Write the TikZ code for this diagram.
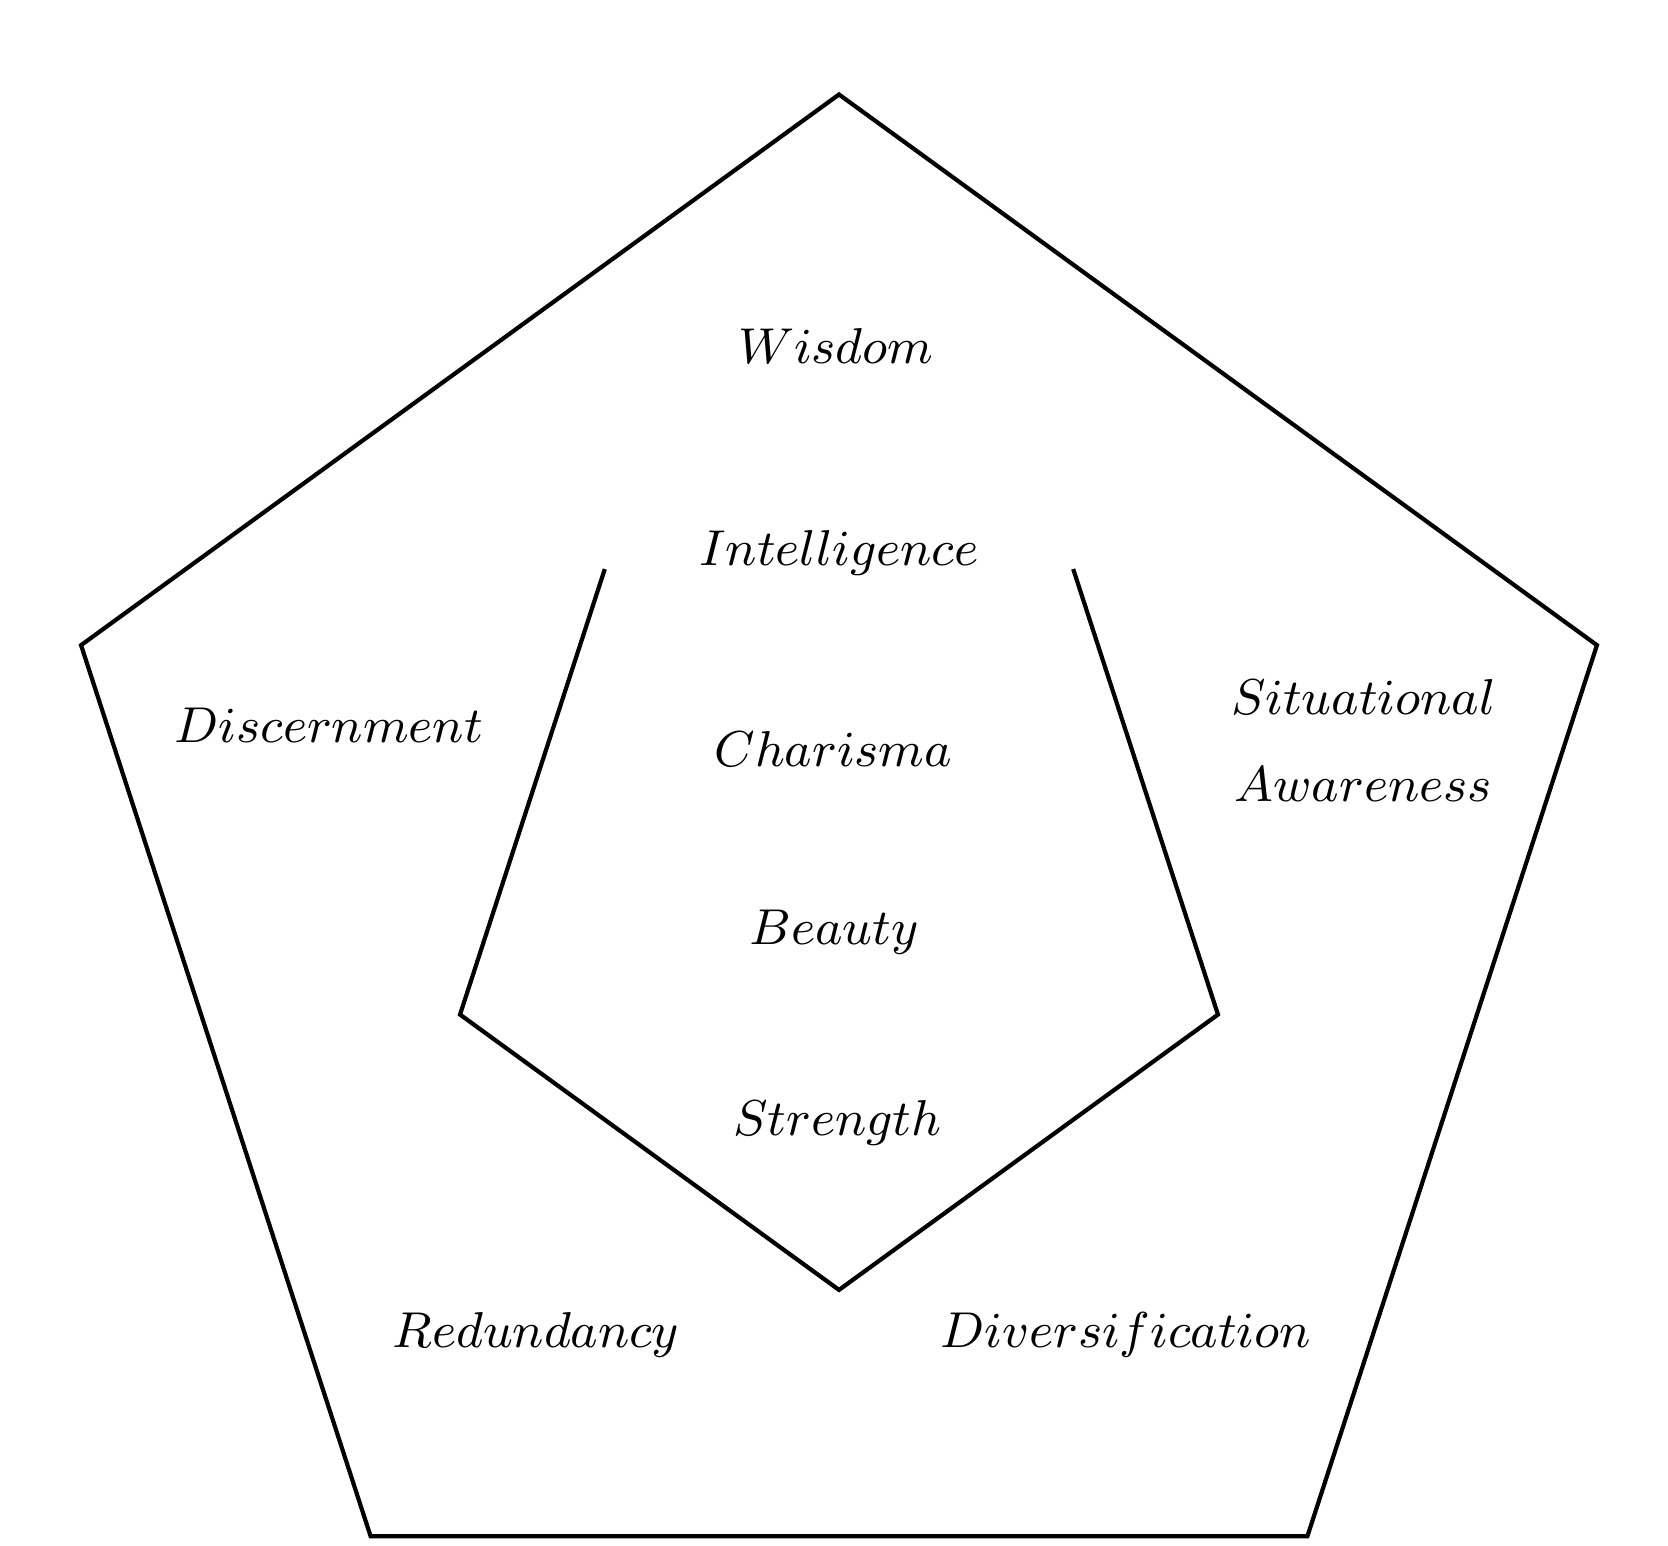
\documentclass[tikz,border=0pt]{standalone}
\usepackage{tikz}
\usetikzlibrary{positioning}

\begin{document}
\begin{tikzpicture}[
  edge/.style={line width=0.75pt, line join=miter},
  lbl/.style={font=\small, align=center, inner sep=0pt}
]
\useasboundingbox (-5.264,-4.106) rectangle (5.201,5.593);

% outer pentagon
\draw[edge] (90:5) -- (162:5) -- (234:5) -- (306:5) -- (18:5) -- cycle;

% inner pentagon, open at the top
\draw[edge] (126:2.5) -- (198:2.5) -- (270:2.5) -- (342:2.5) -- (54:2.5);

\node[lbl] (wis)  at (-0.02,3.42)  {$Wisdom$};
\node[lbl] (dis)  at (-3.20,1.04)  {$Discernment$};
\node[lbl] (sit)  at (3.29,0.945)  {$Situational$\\[4.5pt]$Awareness$};
\node[lbl] (red)  at (-1.90,-2.785) {$Redundancy$};
\node[lbl] (div)  at (1.80,-2.785)  {$Diversification$};

\node[lbl] (int)  at (0,2.125)     {$Intelligence$};
\node[lbl] (cha)  at (-0.035,0.894) {$Charisma$};
\node[lbl] (bea)  at (-0.03,-0.253) {$Beauty$};
\node[lbl] (str)  at (-0.01,-1.45) {$Strength$};

\end{tikzpicture}
\end{document}
